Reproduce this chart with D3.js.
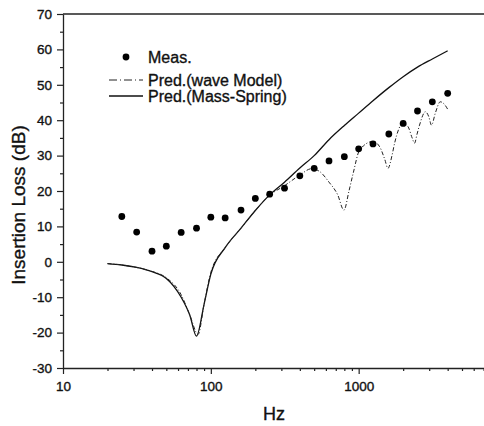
<!DOCTYPE html>
<html>

<head>
  <meta charset="utf-8">
  <title>Insertion Loss</title>

  <style>
    body,
    html {
      margin: 0;
      padding: 0;
      background: #fff;
    }

    svg text {
      font-family: "Liberation Sans", Arial, sans-serif;
      fill: #111;
      stroke: #111;
      stroke-width: 0.35px;
    }
  </style>
</head>


<body>

  <svg id="svg" width="484" height="426"></svg>

  <script src="https://d3js.org/d3.v7.min.js"></script>

  <script>
    // measured insertion loss, 1/3 octave bands
    const measFreq = [25, 31.5, 40, 50, 63, 80, 100, 125, 160, 200, 250, 315, 400, 500, 630, 800, 1000, 1250, 1600, 2000, 2500, 3150, 4000]
    const measDb = [12.8, 8.4, 3.0, 4.4, 8.3, 9.5, 12.6, 12.4, 14.6, 17.9, 19.1, 20.8, 24.3, 26.4, 28.5, 29.7, 31.9, 33.3, 36.1, 39.1, 42.6, 45.2, 47.6]

    // wave model prediction
    const waveFreq = [20, 25, 31.5, 40, 50, 63, 72, 82, 90, 100, 125, 160, 200, 250, 315, 400, 480, 545, 630, 720, 795, 860, 918, 1016, 1250, 1387, 1500, 1578, 1680, 1750, 1995, 2155, 2300, 2388, 2480, 2580, 2830, 2980, 3110, 3300, 3565, 3800, 4000]
    const waveDb = [-0.5, -0.9, -1.6, -2.7, -4.5, -9.3, -15, -20.5, -12, -3, 4, 9.5, 14.5, 18.8, 21.5, 24.5, 26.3, 25.5, 22.5, 19, 14.6, 20, 25, 31.6, 34, 32.5, 29, 26.4, 30, 33.5, 39.1, 38.2, 35, 33.5, 36, 38.6, 42.4, 41, 38.6, 42, 45.2, 44.5, 43.1]

    // mass-spring prediction
    const springFreq = [20, 25, 31.5, 40, 50, 63, 72, 80, 90, 100, 125, 160, 200, 250, 315, 400, 500, 630, 800, 1000, 1250, 1600, 2000, 2500, 3150, 4000]
    const springDb = [-0.5, -0.9, -1.6, -2.8, -4.7, -10, -15, -21, -12, -3.5, 4, 9.5, 14.5, 18.9, 22.5, 26.5, 30, 34.5, 38.5, 42, 45.5, 49.2, 52.3, 55, 57.3, 59.6]

    const xMajor = [10, 100, 1000]
    const xMinor = [20, 30, 40, 50, 60, 70, 80, 90, 200, 300, 400, 500, 600, 700, 800, 900, 2000, 3000, 4000, 5000, 6000, 7000]
    const yMajor = [-30, -20, -10, 0, 10, 20, 30, 40, 50, 60, 70]
    const yMinor = [-25, -15, -5, 5, 15, 25, 35, 45, 55, 65]

    const legendLabels = ["Meas.", "Pred.(wave Model)", "Pred.(Mass-Spring)"]

    const plotLeft = 63, plotRight = 483.6, plotTop = 14, plotBottom = 368

    const xScale = d3.scaleLog()
      .domain([10, 7000])
      .range([plotLeft, plotRight])

    const yScale = d3.scaleLinear()
      .domain([-30, 70])
      .range([plotBottom, plotTop])

    const svg = d3.select("#svg")

    // top frame line
    svg.append("line")
      .attr("x1", plotLeft).attr("x2", 484)
      .attr("y1", plotTop).attr("y2", plotTop)
      .attr("stroke", "#222").attr("stroke-width", 1.4)

    // axes
    const bottomAxis = d3.axisBottom(xScale)
      .tickValues(xMajor)
      .tickFormat(d => String(d))
      .tickSize(6)
      .tickSizeOuter(0)
      .tickPadding(7)

    svg.append("g")
      .attr("transform", `translate(0, ${plotBottom})`)
      .call(bottomAxis)

    const gxMinor = svg.append("g")
      .attr("transform", `translate(0, ${plotBottom})`)
      .call(d3.axisBottom(xScale).tickValues(xMinor).tickFormat("").tickSize(3).tickSizeOuter(0))
    gxMinor.select(".domain").remove()

    const leftAxis = d3.axisLeft(yScale)
      .tickValues(yMajor)
      .tickFormat(d => String(d))
      .tickSize(6)
      .tickSizeOuter(0)
      .tickPadding(5)

    svg.append("g")
      .attr("transform", `translate(${plotLeft}, 0)`)
      .call(leftAxis)

    const gyMinor = svg.append("g")
      .attr("transform", `translate(${plotLeft}, 0)`)
      .call(d3.axisLeft(yScale).tickValues(yMinor).tickFormat("").tickSize(3).tickSizeOuter(0))
    gyMinor.select(".domain").remove()

    svg.selectAll(".domain").attr("stroke", "#222").attr("stroke-width", 1.3)
    svg.selectAll(".tick line").attr("stroke", "#222").attr("stroke-width", 1.2)
    svg.selectAll(".tick text")
      .attr("font-size", 13.5)
      .attr("font-family", "Liberation Sans, Arial, sans-serif")
      .attr("fill", "#111")

    // axis titles
    svg.append("text")
      .attr("x", 274).attr("y", 420)
      .attr("text-anchor", "middle")
      .attr("font-size", 18)
      .text("Hz")

    svg.append("text")
      .attr("transform", `translate(25, 205) rotate(-90)`)
      .attr("text-anchor", "middle")
      .attr("font-size", 19)
      .text("Insertion Loss (dB)")

    const lineGen = d3.line()
      .x(d => xScale(d[0]))
      .y(d => yScale(d[1]))
      .curve(d3.curveMonotoneX)

    svg.append("path")
      .attr("d", lineGen(springFreq.map((f, i) => [f, springDb[i]])))
      .attr("fill", "none")
      .attr("stroke", "#111")
      .attr("stroke-width", 1.3)

    svg.append("path")
      .attr("d", lineGen(waveFreq.map((f, i) => [f, waveDb[i]])))
      .attr("fill", "none")
      .attr("stroke", "#222")
      .attr("stroke-width", 1)
      .attr("stroke-dasharray", "4,2,1,2")

    svg.append("g")
      .selectAll("circle")
      .data(measFreq.map((f, i) => [f, measDb[i]]))
      .join("circle")
      .attr("cx", d => xScale(d[0]))
      .attr("cy", d => yScale(d[1]))
      .attr("r", 3.4)
      .attr("fill", "#000")

    // legend
    const legendY = [57, 80, 96]
    const legend = svg.append("g")

    legend.append("circle")
      .attr("cx", 126).attr("cy", legendY[0]).attr("r", 3.4)
      .attr("fill", "#000")

    legend.append("line")
      .attr("x1", 109).attr("x2", 143)
      .attr("y1", legendY[1]).attr("y2", legendY[1])
      .attr("stroke", "#222").attr("stroke-dasharray", "8,3,1,3")

    legend.append("line")
      .attr("x1", 109).attr("x2", 143)
      .attr("y1", legendY[2]).attr("y2", legendY[2])
      .attr("stroke", "#111").attr("stroke-width", 1.3)

    legend.selectAll("text")
      .data(legendLabels)
      .join("text")
      .attr("x", 148)
      .attr("y", (d, i) => legendY[i])
      .attr("dy", "0.36em")
      .attr("font-size", 16)
      .text(d => d)
  </script>

</body>
</html>
